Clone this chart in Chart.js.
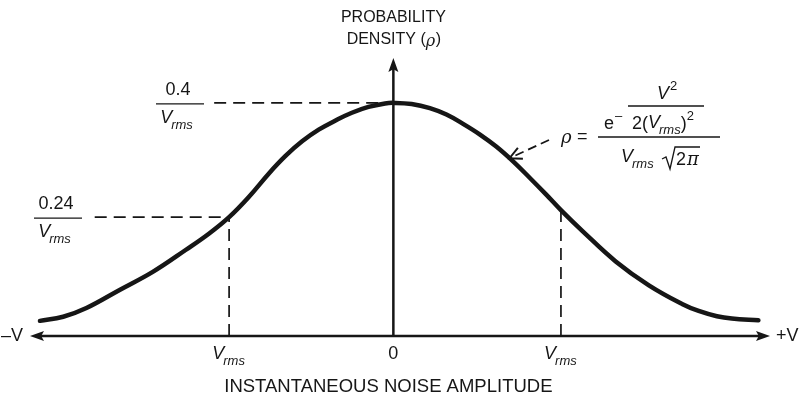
<!DOCTYPE html>
<html>
<head>
<meta charset="utf-8">
<script src="https://cdn.jsdelivr.net/npm/chart.js@4/dist/chart.umd.min.js"></script>
<style>
  html, body { margin: 0; padding: 0; background: #fff; }
  #wrap { width: 799px; height: 400px; }
</style>
</head>
<body>
<div id="wrap"><canvas id="noise-chart"></canvas></div>
<script>
// curve, x in Vrms units, y in density
var curveX = [-2.13, -1.99, -1.85, -1.65, -1.45, -1.25, -1.11, -0.99, -0.87, -0.75, -0.65, -0.55, -0.45, -0.34, -0.25, -0.15, -0.05, 0,
              0.11, 0.22, 0.32, 0.42, 0.52, 0.62, 0.72, 0.82, 0.92, 1.01, 1.14, 1.34, 1.54, 1.74, 1.84, 1.95, 2.04, 2.2];
var curveY = [0.026, 0.033, 0.048, 0.079, 0.110, 0.148, 0.176, 0.204, 0.239, 0.279, 0.309, 0.334, 0.354, 0.371, 0.383, 0.393, 0.399, 0.4,
              0.398, 0.391, 0.380, 0.364, 0.346, 0.325, 0.300, 0.272, 0.243, 0.216, 0.180, 0.128, 0.087, 0.055, 0.043, 0.034, 0.030, 0.027];

// Vrms markers and the two marked levels
var vrmsX = [-0.99, 1.01];
var vrmsY = [0.204, 0.216];
var levelY = [0.4, 0.204];
var levelStartX = [-1.08, -1.80];
var levelEndX = [0, -0.99];
var levelText = ['0.4', '0.24'];
var tickX = [-0.99, 0, 1.01];
var tickText = ['Vrms', '0', 'Vrms'];

var xMin = -2.19, xMax = 2.27, yMax = 0.477;
var ink = '#161616';
var sans = '"Liberation Sans", Arial, Helvetica, sans-serif';
var serif = '"DejaVu Serif", "Liberation Serif", serif';

function pts(xs, ys) {
    return xs.map(function (x, i) { return { x: x, y: ys[i] }; });
}

function dashed(data) {
    return {
        data: data,
        borderColor: ink,
        borderWidth: 1.7,
        borderDash: [12, 7],
        pointRadius: 0,
        tension: 0,
        clip: false
    };
}

function arrowHead(ctx, tx, ty, dx, dy, len, half) {
    var px = -dy, py = dx;
    ctx.beginPath();
    ctx.moveTo(tx, ty);
    ctx.lineTo(tx - dx * len + px * half, ty - dy * len + py * half);
    ctx.lineTo(tx - dx * len * 0.8, ty - dy * len * 0.8);
    ctx.lineTo(tx - dx * len - px * half, ty - dy * len - py * half);
    ctx.closePath();
    ctx.fill();
}

// italic V with rms subscript
function drawVrms(ctx, cx, cy, size, align) {
    var sub = Math.round(size * 0.72);
    ctx.font = 'italic ' + size + 'px ' + sans;
    var w1 = ctx.measureText('V').width;
    ctx.font = 'italic ' + sub + 'px ' + sans;
    var w2 = ctx.measureText('rms').width;
    var x = cx;
    if (align === 'center') x = cx - (w1 + w2) / 2;
    ctx.textAlign = 'left';
    ctx.textBaseline = 'middle';
    ctx.font = 'italic ' + size + 'px ' + sans;
    ctx.fillText('V', x, cy);
    ctx.font = 'italic ' + sub + 'px ' + sans;
    ctx.fillText('rms', x + w1 - 1, cy + size * 0.42);
    return w1 + w2;
}

function rho(ctx, x, y, size) {
    ctx.font = 'italic ' + size + 'px ' + serif;
    ctx.textAlign = 'left';
    ctx.textBaseline = 'middle';
    ctx.fillText('\u03c1', x, y);
    return ctx.measureText('\u03c1').width;
}

function hline(ctx, x0, x1, y, w) {
    ctx.lineWidth = w;
    ctx.beginPath();
    ctx.moveTo(x0, y);
    ctx.lineTo(x1, y);
    ctx.stroke();
}

var diagram = {
    id: 'diagram',
    beforeDatasetsDraw: function (chart) {
        var ctx = chart.ctx, xs = chart.scales.x, ys = chart.scales.y;
        var y0 = ys.getPixelForValue(0);
        var xc = xs.getPixelForValue(0);
        var L = xs.getPixelForValue(xMin), R = xs.getPixelForValue(xMax);
        var T = ys.getPixelForValue(yMax);
        ctx.save();
        ctx.strokeStyle = ink;
        ctx.fillStyle = ink;
        ctx.lineWidth = 2.5;
        ctx.beginPath();
        ctx.moveTo(L + 8, y0);
        ctx.lineTo(R - 8, y0);
        ctx.moveTo(xc, y0);
        ctx.lineTo(xc, T + 8);
        ctx.stroke();
        arrowHead(ctx, L, y0, -1, 0, 14, 5);
        arrowHead(ctx, R, y0, 1, 0, 14, 5);
        arrowHead(ctx, xc, T, 0, -1, 14, 5);
        ctx.restore();
    },
    afterDraw: function (chart) {
        var ctx = chart.ctx, xs = chart.scales.x, ys = chart.scales.y;
        var y0 = ys.getPixelForValue(0);
        var xc = xs.getPixelForValue(0);
        var L = xs.getPixelForValue(xMin), R = xs.getPixelForValue(xMax);
        ctx.save();
        ctx.fillStyle = ink;
        ctx.strokeStyle = ink;

        // axis titles
        ctx.textAlign = 'center';
        ctx.textBaseline = 'middle';
        ctx.font = '16px ' + sans;
        ctx.fillText('PROBABILITY', xc, 18);
        var dw = ctx.measureText('DENSITY (').width;
        var rw = 9, cw = ctx.measureText(')').width;
        var sx = xc - (dw + rw + cw) / 2;
        ctx.textAlign = 'left';
        ctx.fillText('DENSITY (', sx, 40);
        rho(ctx, sx + dw, 42, 16);
        ctx.font = '16px ' + sans;
        ctx.fillText(')', sx + dw + rw + 1, 40);

        ctx.textAlign = 'center';
        ctx.font = '18.5px ' + sans;
        ctx.fillText('INSTANTANEOUS NOISE AMPLITUDE', xc - 5, 387);

        ctx.font = '18px ' + sans;
        ctx.textAlign = 'right';
        ctx.fillText('\u2013V', L - 7, y0);
        ctx.textAlign = 'left';
        ctx.fillText('+V', R + 6, y0);

        // tick labels under the axis
        tickX.forEach(function (v, i) {
            var px = xs.getPixelForValue(v);
            if (tickText[i] === 'Vrms') {
                drawVrms(ctx, px, y0 + 18, 18, 'center');
            } else {
                ctx.font = '18px ' + sans;
                ctx.textAlign = 'center';
                ctx.fillText(tickText[i], px, y0 + 18);
            }
        });

        // level labels as fractions over Vrms
        var labelCx = [180, 58];
        levelY.forEach(function (v, i) {
            var py = ys.getPixelForValue(v);
            ctx.font = '18px ' + sans;
            ctx.textAlign = 'center';
            ctx.textBaseline = 'middle';
            ctx.fillText(levelText[i], labelCx[i] - 2, py - 13);
            hline(ctx, labelCx[i] - 24, labelCx[i] + 24, py + 1, 1.3);
            drawVrms(ctx, labelCx[i] - 3, py + 15, 18, 'center');
        });

        // formula pointer
        var tipX = xs.getPixelForValue(0.70), tipY = ys.getPixelForValue(0.305);
        var fx = 549, fy = 140;
        var len = Math.hypot(fx - tipX, fy - tipY);
        var ux = (tipX - fx) / len, uy = (tipY - fy) / len;
        ctx.lineWidth = 1.8;
        ctx.setLineDash([9, 5]);
        ctx.beginPath();
        ctx.moveTo(fx, fy);
        ctx.lineTo(tipX - ux * 2, tipY - uy * 2);
        ctx.stroke();
        ctx.setLineDash([]);
        ctx.lineWidth = 2;
        ctx.beginPath();
        ctx.moveTo(tipX - ux * 12 - uy * 6, tipY - uy * 12 + ux * 6);
        ctx.lineTo(tipX, tipY);
        ctx.lineTo(tipX - ux * 12 + uy * 6, tipY - uy * 12 - ux * 6);
        ctx.stroke();

        // formula: rho = e^-(V^2 / 2(Vrms)^2) / (Vrms sqrt(2 pi))
        var barY = 137;
        rho(ctx, 561, barY + 1, 18);
        ctx.font = '18px ' + sans;
        ctx.textAlign = 'left';
        ctx.fillText('=', 577, barY);
        hline(ctx, 598, 720, barY, 1.3);
        ctx.font = '18px ' + sans;
        ctx.fillText('e', 604, 124);
        ctx.font = '13px ' + sans;
        ctx.fillText('\u2013', 615, 116);
        hline(ctx, 628, 704, 106, 1.3);
        ctx.font = 'italic 18px ' + sans;
        ctx.fillText('V', 657, 94);
        ctx.font = '13px ' + sans;
        ctx.fillText('2', 670, 86);
        ctx.font = '18px ' + sans;
        ctx.fillText('2(', 632, 124);
        var w = ctx.measureText('2(').width;
        var vw = drawVrms(ctx, 632 + w, 123, 18, 'left');
        ctx.font = '18px ' + sans;
        ctx.fillText(')', 632 + w + vw - 1, 124);
        ctx.font = '13px ' + sans;
        ctx.fillText('2', 632 + w + vw + 5, 116);
        drawVrms(ctx, 621, 157, 18, 'left');
        ctx.lineWidth = 1.3;
        ctx.beginPath();
        ctx.moveTo(662, 159);
        ctx.lineTo(666, 157);
        ctx.lineTo(670, 169);
        ctx.lineTo(675, 147);
        ctx.lineTo(700, 147);
        ctx.stroke();
        ctx.font = '18px ' + sans;
        ctx.fillText('2', 676, 160);
        ctx.font = 'italic 18px ' + serif;
        ctx.fillText('\u03c0', 687, 160);
        ctx.restore();
    }
};

var ctx = document.getElementById('noise-chart');

var noiseChart = new Chart(ctx, {
    type: 'line',
    data: {
        datasets: [
            {
                data: pts(curveX, curveY),
                borderColor: ink,
                borderWidth: 4.5,
                pointRadius: 0,
                tension: 0.4,
                borderCapStyle: 'round',
                clip: false
            },
            dashed([{ x: levelStartX[0], y: levelY[0] }, { x: levelEndX[0], y: levelY[0] }]),
            dashed([{ x: levelStartX[1], y: levelY[1] }, { x: levelEndX[1], y: levelY[1] }]),
            dashed([{ x: vrmsX[0], y: 0 }, { x: vrmsX[0], y: vrmsY[0] }]),
            dashed([{ x: vrmsX[1], y: 0 }, { x: vrmsX[1], y: vrmsY[1] }])
        ]
    },
    options: {
        responsive: true,
        maintainAspectRatio: false,
        animation: false,
        layout: { padding: { left: 30, right: 29, top: 58, bottom: 64 } },
        plugins: {
            legend: { display: false },
            tooltip: { enabled: false }
        },
        scales: {
            x: { type: 'linear', min: xMin, max: xMax, display: false },
            y: { type: 'linear', min: 0, max: yMax, display: false }
        }
    },
    plugins: [diagram]
});
</script>
</body>
</html>
